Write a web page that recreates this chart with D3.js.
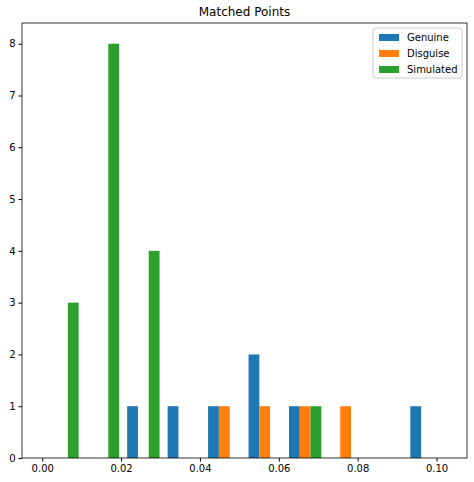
<!DOCTYPE html>
<html>
<head>
<meta charset="utf-8">
<script src="https://cdn.jsdelivr.net/npm/d3@7"></script>
<style>
body { margin: 0; background: #fff; }
text { font-family: "DejaVu Sans", sans-serif; }
</style>
</head>
<body>
<div id="chart"></div>
<script>
// histogram bins (left edges) and counts per series
var binWidth = 0.01026;
var binStarts = [0, 0.01026, 0.02052, 0.03078, 0.04104, 0.0513, 0.06156, 0.07182, 0.08208, 0.09234];
var genuine = [0, 0, 1, 1, 1, 2, 1, 0, 0, 1];
var disguise = [0, 0, 0, 0, 1, 1, 1, 1, 0, 0];
var simulated = [3, 8, 4, 0, 0, 0, 1, 0, 0, 0];
var seriesNames = ["Genuine", "Disguise", "Simulated"];
var colors = ["#1f77b4", "#ff7f0e", "#2ca02c"];
var xTicks = [0, 0.02, 0.04, 0.06, 0.08, 0.10];
var yTicks = [0, 1, 2, 3, 4, 5, 6, 7, 8];

var svgWidth = 474, svgHeight = 482;
var margin = { top: 23, right: 7, bottom: 24, left: 22 };
var width = svgWidth - margin.left - margin.right;
var height = svgHeight - margin.top - margin.bottom;

var svg = d3.select("#chart").append("svg")
    .attr("width", svgWidth)
    .attr("height", svgHeight);

var g = svg.append("g")
    .attr("transform", `translate(${margin.left}, ${margin.top})`);

var xMax = binStarts[binStarts.length - 1] + binWidth;
var pad = xMax * 0.05;
var x = d3.scaleLinear().domain([-pad, xMax + pad]).range([0, width]);
var y = d3.scaleLinear().domain([0, 8.4]).range([height, 0]);

var all = [genuine, disguise, simulated];
var barW = binWidth * 0.8 / 3;
all.forEach(function (counts, s) {
    g.selectAll(".bar" + s)
        .data(counts)
        .enter()
        .append("rect")
        .attr("x", (d, i) => x(binStarts[i] + binWidth * 0.1 + barW * s))
        .attr("width", x(barW) - x(0))
        .attr("y", d => y(d))
        .attr("height", d => height - y(d))
        .attr("fill", colors[s]);
});

var xAxis = g.append("g")
    .attr("transform", `translate(0, ${height})`)
    .call(d3.axisBottom(x).tickValues(xTicks).tickFormat(d3.format(".2f")).tickSize(3.5).tickSizeOuter(0));
var yAxis = g.append("g")
    .call(d3.axisLeft(y).tickValues(yTicks).tickFormat(d3.format("d")).tickSize(3.5).tickSizeOuter(0));
[xAxis, yAxis].forEach(function (a) {
    a.selectAll("text").attr("font-size", 10).attr("fill", "#000");
    a.select(".domain").remove();
});

// frame
g.append("rect")
    .attr("width", width).attr("height", height)
    .attr("fill", "none").attr("stroke", "#000").attr("stroke-width", 0.8);

svg.append("text")
    .attr("x", margin.left + width / 2)
    .attr("y", 16)
    .attr("text-anchor", "middle")
    .attr("font-size", 12)
    .text("Matched Points");

// legend
var legend = g.append("g").attr("transform", `translate(${width - 94}, 5)`);
legend.append("rect")
    .attr("width", 89).attr("height", 50).attr("rx", 3)
    .attr("fill", "#fff").attr("stroke", "#ccc");
seriesNames.forEach(function (n, i) {
    legend.append("rect")
        .attr("x", 6).attr("y", 6 + i * 16)
        .attr("width", 20).attr("height", 7)
        .attr("fill", colors[i]);
    legend.append("text")
        .attr("x", 34).attr("y", 13 + i * 16)
        .attr("font-size", 10)
        .text(n);
});
</script>
</body>
</html>
